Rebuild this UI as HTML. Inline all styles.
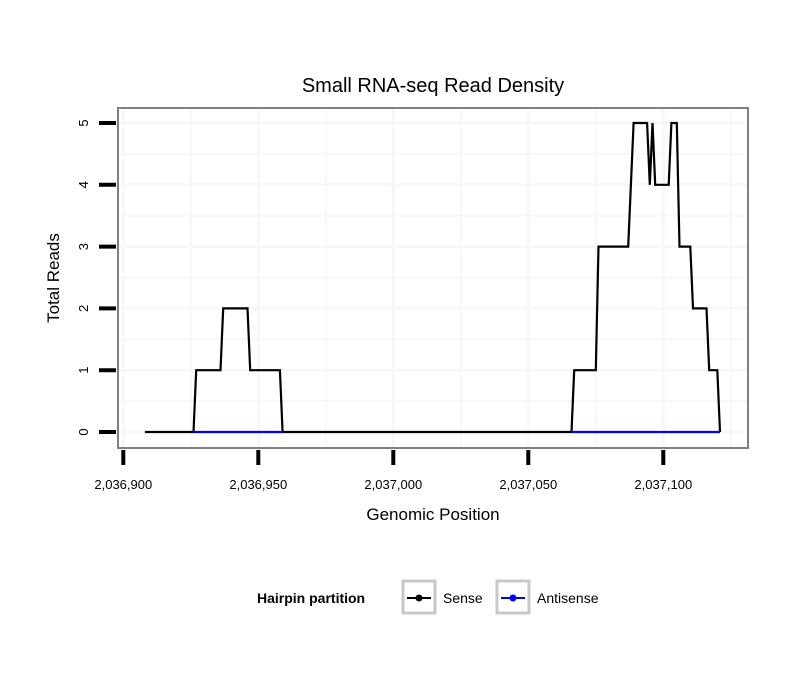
<!DOCTYPE html>
<html><head><meta charset="utf-8"><style>
body{margin:0;background:#fff;}
svg text{font-family:"Liberation Sans",sans-serif;}
</style></head><body>
<svg id="chart" width="810" height="690" xmlns="http://www.w3.org/2000/svg">
<rect width="810" height="690" fill="#fff"/>
<text x="433" y="92" font-size="20" text-anchor="middle">Small RNA-seq Read Density</text>
<rect x="118" y="108" width="630" height="340" fill="#fff"/>
<g id="grid"></g>
<g id="series"></g>
<rect x="118" y="108" width="630" height="340" fill="none" stroke="#808080" stroke-width="2"/>
<g id="axes"></g>
<text x="433" y="520" font-size="17" text-anchor="middle">Genomic Position</text>
<text transform="translate(59,278) rotate(-90)" font-size="17" text-anchor="middle">Total Reads</text>
<g>
<text x="257" y="603" font-size="14" font-weight="bold">Hairpin partition</text>
<g>
<rect x="403" y="581" width="32" height="32" fill="#fff" stroke="#c8c8c8" stroke-width="3"/>
<line x1="407" y1="598" x2="431" y2="598" stroke="#000" stroke-width="2"/>
<circle cx="419" cy="598" r="3.5" fill="#000"/>
<text x="443" y="603" font-size="14">Sense</text>
</g>
<g>
<rect x="497" y="581" width="32" height="32" fill="#fff" stroke="#c8c8c8" stroke-width="3"/>
<line x1="501" y1="598" x2="525" y2="598" stroke="#00f" stroke-width="2"/>
<circle cx="513" cy="598" r="3.5" fill="#00f"/>
<text x="537" y="603" font-size="14">Antisense</text>
</g>
</g>
</svg>
<script>
const xTicks = [2036900, 2036950, 2037000, 2037050, 2037100];
const xTickLabels = ["2,036,900", "2,036,950", "2,037,000", "2,037,050", "2,037,100"];
const yTicks = [0, 1, 2, 3, 4, 5];
const senseX = [2036908,2036926,2036927,2036936,2036937,2036946,2036947,2036958,2036959,2037066,2037067,2037075,2037076,2037087,2037089,2037094,2037095,2037096,2037097,2037102,2037103,2037105,2037106,2037110,2037111,2037116,2037117,2037120,2037121];
const senseY = [0,0,1,1,2,2,1,1,0,0,1,1,3,3,5,5,4,5,4,4,5,5,3,3,2,2,1,1,0];
const antiX1 = [2036926, 2036959];
const antiY1 = [0, 0];
const antiX2 = [2037066, 2037121];
const antiY2 = [0, 0];

const NS = "http://www.w3.org/2000/svg";
function sx(v){ return 123.3 + (v - 2036900) * 2.7; }
function sy(v){ return 432 - v * 61.8; }
function mk(tag, attrs, parent){ const e = document.createElementNS(NS, tag); for (const k in attrs) e.setAttribute(k, attrs[k]); parent.appendChild(e); return e; }

const grid = document.getElementById("grid");
for (let v = 2036875; v <= 2037125; v += 25) {
  const x = sx(v);
  if (x < 118 || x > 748) continue;
  const gl = mk("line", {x1: x, x2: x, y1: 108, y2: 448, stroke: "#f7f7f7", "stroke-width": (v % 50 === 0) ? 3 : 2}, grid);
  
  
}
for (let v = -0.5; v <= 5.5; v += 0.5) {
  const y = sy(v);
  if (y < 108 || y > 448) continue;
  const gl = mk("line", {x1: 118, x2: 748, y1: y, y2: y, stroke: "#f7f7f7", "stroke-width": (v % 1 === 0) ? 3 : 2}, grid);
  
  
}

const series = document.getElementById("series");
function path(xs, ys, color, name){
  const d = xs.map((x, i) => (i ? "L" : "M") + sx(x) + "," + sy(ys[i])).join(" ");
  const p = mk("path", {d: d, fill: "none", stroke: color, "stroke-width": 2.2, "stroke-linejoin": "miter"}, series);
  
  
}
path(senseX, senseY, "#000", "sense-line");
path(antiX1, antiY1, "#00f", "antisense-line-1");
path(antiX2, antiY2, "#00f", "antisense-line-2");

const axes = document.getElementById("axes");
xTicks.forEach((v, i) => {
  const x = sx(v);
  const t = mk("line", {x1: x, x2: x, y1: 450, y2: 465, stroke: "#000", "stroke-width": 4}, axes);
  
  
  const l = mk("text", {x: x, y: 489, "font-size": 13, "text-anchor": "middle"}, axes);
  l.textContent = xTickLabels[i];
  
  
});
yTicks.forEach(v => {
  const y = sy(v);
  const t = mk("line", {x1: 99, x2: 116, y1: y, y2: y, stroke: "#000", "stroke-width": 4}, axes);
  
  
  const l = mk("text", {"font-size": 13, "text-anchor": "middle", transform: "translate(88," + y + ") rotate(-90)"}, axes);
  l.textContent = String(v);
  
  
});
</script>
</body></html>
